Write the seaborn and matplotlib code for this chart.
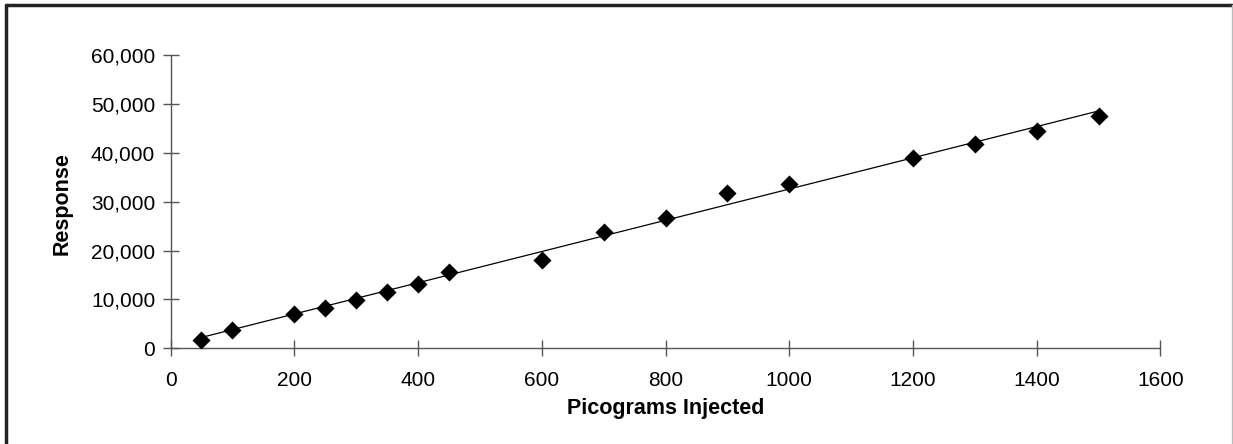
import matplotlib
matplotlib.use("Agg")
import matplotlib.pyplot as plt
import matplotlib.ticker as mticker
from matplotlib.lines import Line2D
import seaborn as sns
import pandas as pd

picograms = [50, 100, 200, 250, 300, 350, 400, 450, 600, 700, 800, 900, 1000, 1200, 1300, 1400, 1500]
response = [1700, 3750, 7020, 8320, 9960, 11600, 13230, 15690, 18150, 23880, 26750, 31740, 33710, 39030, 41900, 44440, 47640]
x_ticks = [0, 200, 400, 600, 800, 1000, 1200, 1400, 1600]
y_ticks = [0, 10000, 20000, 30000, 40000, 50000, 60000]

df = pd.DataFrame({"Picograms Injected": picograms, "Response": response})

sns.set_theme(style="white")
plt.rcParams["font.family"] = ["Liberation Sans", "DejaVu Sans"]
plt.rcParams["text.color"] = "black"
plt.rcParams["axes.labelcolor"] = "black"

fig = plt.figure(figsize=(12.33, 4.44), dpi=100)
ax = fig.add_axes([0.1383, 0.2155, 0.9412 - 0.1383, 0.8755 - 0.2155])

sns.regplot(data=df, x="Picograms Injected", y="Response", ax=ax, ci=None, truncate=True,
            marker="D",
            scatter_kws={"s": 85, "color": "black", "edgecolor": "black", "linewidths": 0,
                         "alpha": 1, "zorder": 3},
            line_kws={"color": "black", "linewidth": 0.9, "zorder": 2})

ax.set_xlim(0, 1600)
ax.set_ylim(0, 60000)
ax.set_xticks(x_ticks)
ax.set_yticks(y_ticks)
ax.yaxis.set_major_formatter(mticker.FuncFormatter(lambda v, p: f"{int(v):,}"))
for s in ["top", "right"]:
    ax.spines[s].set_visible(False)
for s in ["left", "bottom"]:
    ax.spines[s].set_color("#555555")
    ax.spines[s].set_linewidth(1.0)
ax.tick_params(axis="both", which="major", direction="inout", length=11, width=1.0,
               color="#555555", labelsize=15, labelcolor="black",
               bottom=True, left=True)
ax.tick_params(axis="x", pad=11)
ax.tick_params(axis="y", pad=5.5)
ax.set_xlabel("Picograms Injected", fontsize=15.5, fontweight="bold")
ax.set_ylabel("Response", fontsize=15.5, fontweight="bold")
ax.xaxis.set_label_coords(0.5, -0.168)
ax.yaxis.set_label_coords(-0.0985, 0.4925)
for c in ax.collections:
    c.set_clip_on(False)

# outer frame
fig.add_artist(Line2D([6 / 1233, 6 / 1233], [0, 1 - 5 / 444], transform=fig.transFigure, color="#222222", lw=2.5))
fig.add_artist(Line2D([6 / 1233, 1232 / 1233], [1 - 5 / 444, 1 - 5 / 444], transform=fig.transFigure, color="#222222", lw=2.5))
fig.add_artist(Line2D([1232 / 1233, 1232 / 1233], [0, 1 - 5 / 444], transform=fig.transFigure, color="#bbbbbb", lw=1))

fig.savefig("out.png", dpi=100, facecolor="white")
